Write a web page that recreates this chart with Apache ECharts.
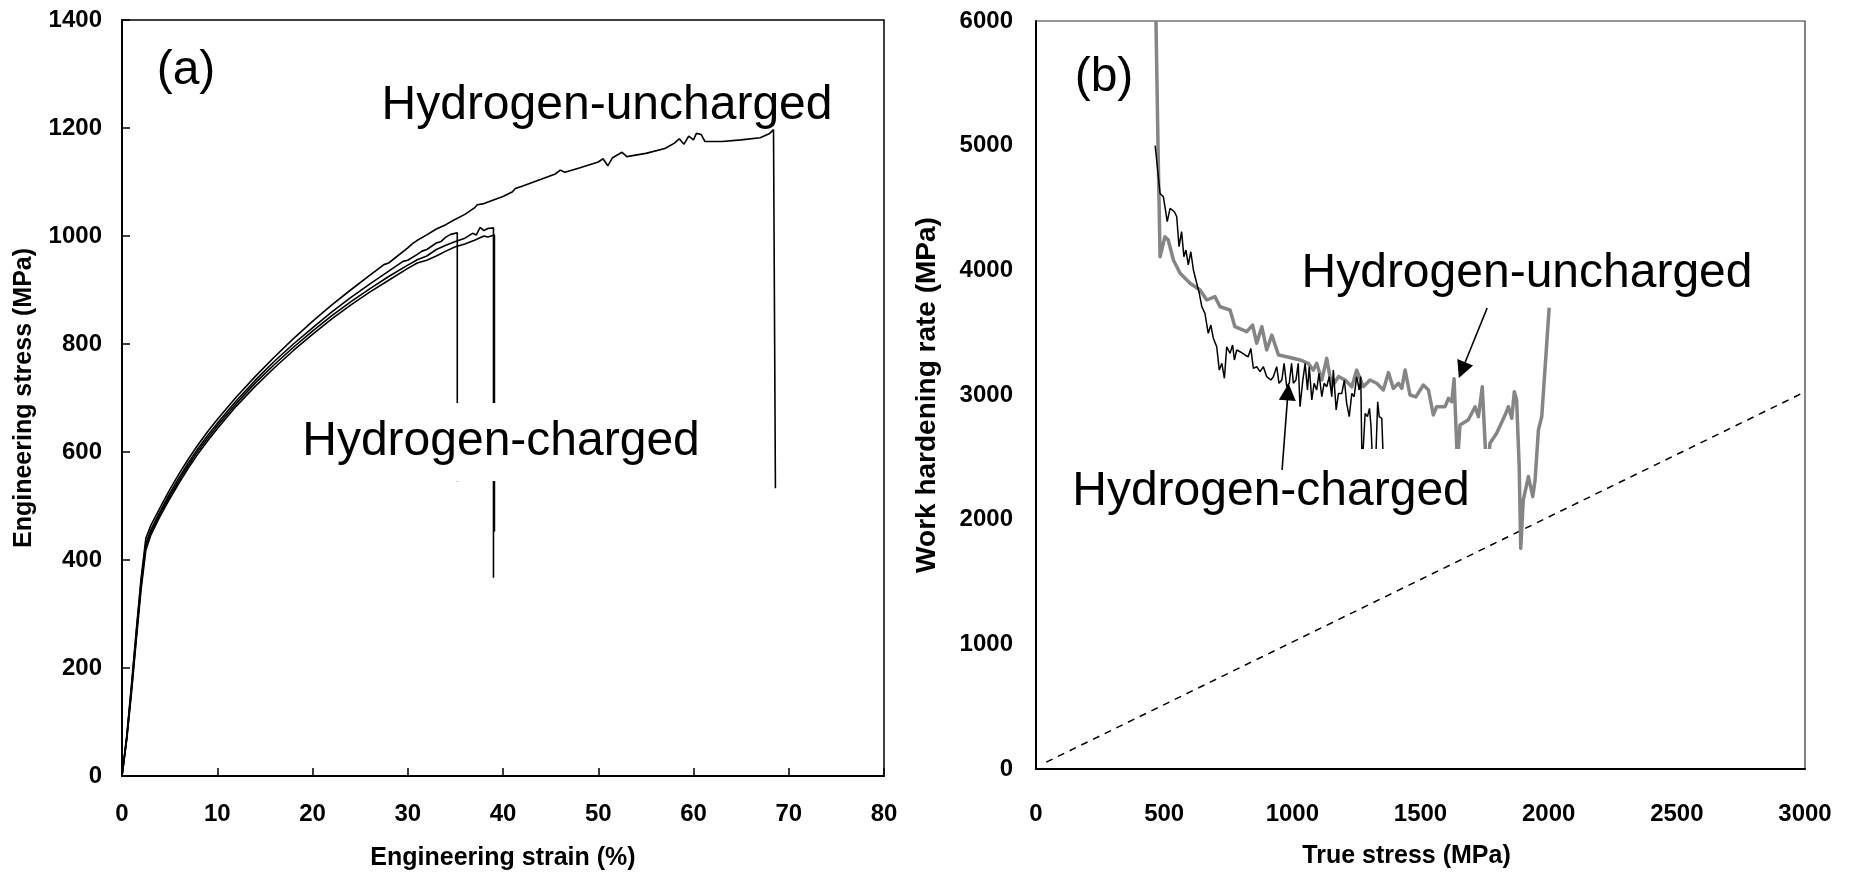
<!DOCTYPE html>
<html><head><meta charset="utf-8">
<script src="https://cdn.jsdelivr.net/npm/echarts@6/dist/echarts.min.js"></script>
<style>html,body{margin:0;padding:0;background:#fff}#c{width:1850px;height:876px}</style>
</head><body><div id="c"></div>
<script>
// ---------- Panel (a): engineering stress-strain [strain %, stress MPa] ----------
const aUncharged = [[0,0],[0.5,75],[1,170],[1.5,270],[2,365],[2.5,440],[3,463],[4,497],[5,530],[6,560],[7,588],[8,614],[9,638],[10,660],[12,702],[14,740],[16,776],[18,810],[20,842],[22,872],[24,900],[26,927],[27.5,947],[28,950],[30,978],[30.5,986],[31,992],[32,1002],[33,1013],[34,1021],[35,1031],[36,1040],[37,1052],[37.3,1058],[38,1060],[40,1073],[41,1082],[41.3,1088],[42,1092],[44,1105],[45.5,1115],[46,1122],[46.5,1118],[48,1126],[50,1137],[50.5,1143],[51,1130],[51.5,1145],[52.5,1155],[53,1147],[55,1153],[57,1162],[58,1172],[58.5,1180],[59,1170],[59.5,1185],[60,1178],[60.3,1190],[60.8,1188],[61.2,1175],[63,1175],[65,1178],[67,1182],[68,1190],[68.4,1197],[68.6,1195],[68.6,533]];
const aCharged1 = [[0,0],[0.5,72],[1,165],[1.5,265],[2,360],[2.5,430],[3,455],[4,490],[5,523],[6,553],[7,581],[8,607],[9,631],[10,653],[12,695],[14,733],[16,768],[18,800],[20,830],[22,859],[24,886],[26,911],[28,935],[29.5,953],[30,955],[31,966],[31.5,972],[32,975],[33,987],[33.5,990],[34,998],[34.5,1003],[35.2,1006],[35.2,546]];
const aCharged2 = [[0,0],[0.5,70],[1,160],[1.5,258],[2,352],[2.5,425],[3,450],[4,486],[5,518],[6,548],[7,576],[8,602],[9,626],[10,648],[12,690],[14,728],[16,762],[18,794],[20,824],[22,852],[24,878],[26,902],[28,925],[30,946],[31,956],[32,963],[33,975],[34,983],[35,990],[36,996],[36.8,1005],[37.2,1002],[37.6,1016],[38,1010],[38.4,1014],[39,1015],[39,367]];
const aCharged3 = [[0,0],[0.5,68],[1,155],[1.5,252],[2,345],[2.5,418],[3,445],[4,481],[5,513],[6,543],[7,571],[8,597],[9,621],[10,643],[12,685],[14,722],[16,756],[18,788],[20,818],[22,846],[24,872],[26,896],[28,918],[30,940],[31,950],[32,955],[33,963],[34,972],[35,980],[36,985],[37,992],[38,1000],[38.4,998],[39.1,1002],[39.1,453]];

// ---------- Panel (b): work hardening rate vs true stress [MPa, MPa] ----------
const bUncharged = [[468,6000],[476,5000],[484,4109],[503,4270],[516,4243],[536,4083],[562,3976],[601,3896],[640,3842],[666,3762],[698,3789],[718,3708],[757,3682],[776,3548],[822,3508],[845,3561],[861,3415],[881,3548],[900,3361],[920,3481],[946,3321],[978,3307],[1030,3281],[1062,3254],[1082,3200],[1095,3254],[1115,3120],[1134,3294],[1154,3066],[1180,3147],[1206,3120],[1232,3066],[1251,3200],[1277,3066],[1303,3120],[1329,3094],[1355,3040],[1375,3180],[1394,3053],[1414,3094],[1427,3053],[1440,3200],[1459,3000],[1482,2985],[1511,3080],[1531,3040],[1550,2840],[1563,2906],[1596,2906],[1609,2973],[1622,2946],[1631,3130],[1644,2450],[1650,2450],[1654,2759],[1686,2799],[1713,2906],[1726,2826],[1741,3066],[1756,2450],[1765,2450],[1771,2613],[1797,2693],[1830,2839],[1843,2906],[1856,2813],[1866,3027],[1875,2960],[1885,2425],[1891,1770],[1901,2158],[1921,2346],[1938,2185],[1947,2318],[1960,2719],[1973,2826],[1989,3307],[2002,3700]];
const bCharged = [[465,5000],[484,4617],[497,4590],[512,4390],[523,4497],[540,4470],[549,4430],[558,4190],[568,4310],[577,4109],[585,4163],[594,4043],[604,4149],[614,4003],[627,3896],[637,3816],[647,3708],[659,3655],[672,3495],[682,3561],[692,3454],[705,3387],[715,3200],[725,3254],[735,3134],[744,3387],[757,3334],[767,3401],[774,3281],[783,3361],[796,3347],[815,3321],[828,3307],[838,3374],[848,3214],[861,3227],[874,3187],[887,3227],[900,3147],[916,3120],[926,3147],[939,3227],[948,3094],[959,3120],[968,3254],[978,3066],[988,3094],[997,3254],[1004,3094],[1014,3120],[1023,3254],[1030,2906],[1041,3120],[1050,3254],[1059,3040],[1066,3227],[1076,2960],[1085,3094],[1095,3040],[1104,3174],[1115,2986],[1124,3094],[1134,3066],[1144,3147],[1154,2986],[1160,3200],[1171,2880],[1180,3013],[1193,3013],[1203,3120],[1212,2933],[1222,2826],[1232,3013],[1241,2986],[1251,3147],[1261,3040],[1267,3147],[1272,2400],[1278,2400],[1284,2853],[1293,2826],[1301,2893],[1307,2746],[1314,2400],[1324,2400],[1333,2946],[1339,2826],[1349,2813],[1356,2400]];
const bConsidere = [[40,55],[3000,3025]];
const bArrowUncharged = [[1760,3698],[1662,3200]];
const bArrowCharged = [[960,2398],[983,3024]];

// axis ranges [min, max, interval]
const aXAxis = [0, 80, 10];
const aYAxis = [0, 1400, 200];
const bXAxis = [0, 3000, 500];
const bYAxis = [0, 6000, 1000];

const FONT = '"Liberation Sans", Arial, Helvetica, sans-serif';
const chart = echarts.init(document.getElementById('c'), null, {renderer: 'canvas'});

function tickLabel(margin) {
  return {color: '#000', fontSize: 24, fontWeight: 'bold', fontFamily: FONT, margin: margin,
    formatter: function (v) { return String(v); }};
}
function nameStyle(extra) {
  return Object.assign({color: '#000', fontSize: 25, fontWeight: 'bold', fontFamily: FONT}, extra || {});
}
function blackLine(data) {
  return {type: 'line', xAxisIndex: 0, yAxisIndex: 0, data: data, showSymbol: false, symbol: 'none',
    lineStyle: {color: '#000', width: 1.6}, silent: true, z: 2};
}
function annot(x, y, text, box) {
  const s = {text: text, font: '48px ' + FONT, fill: '#000', textAlign: 'center', textVerticalAlign: 'middle',
    align: 'center', verticalAlign: 'middle', lineHeight: 48};
  if (box) { s.backgroundColor = '#fff'; s.padding = box; }
  return {type: 'text', x: x, y: y, z: 50, silent: true, style: s};
}

chart.setOption({
  animation: false,
  backgroundColor: '#fff',
  grid: [
    {left: 122, top: 20, width: 762, height: 759, show: true, borderColor: '#000', borderWidth: 1.5, backgroundColor: 'transparent'},
    {left: 1036, top: 21, width: 769, height: 748, show: true, borderColor: '#333', borderWidth: 1.2, backgroundColor: 'transparent'}
  ],
  xAxis: [
    {gridIndex: 0, type: 'value', min: aXAxis[0], max: aXAxis[1], interval: aXAxis[2],
     name: 'Engineering strain (%)', nameLocation: 'middle', nameGap: 70, nameTextStyle: nameStyle(),
     axisLine: {lineStyle: {color: '#000', width: 2}}, axisTick: {inside: true, length: 8, lineStyle: {color: '#000', width: 1.5}},
     axisLabel: tickLabel(26), splitLine: {show: false}},
    {gridIndex: 1, type: 'value', min: bXAxis[0], max: bXAxis[1], interval: bXAxis[2],
     name: 'True stress (MPa)', nameLocation: 'middle', nameGap: 75, nameTextStyle: nameStyle({padding: [0, 28, 0, 0]}),
     axisLine: {lineStyle: {color: '#000', width: 2}}, axisTick: {show: false},
     axisLabel: tickLabel(33), splitLine: {show: false}}
  ],
  yAxis: [
    {gridIndex: 0, type: 'value', min: aYAxis[0], max: aYAxis[1], interval: aYAxis[2],
     name: 'Engineering stress (MPa)', nameLocation: 'middle', nameGap: 85, nameTextStyle: nameStyle(),
     axisLine: {lineStyle: {color: '#000', width: 2}}, axisTick: {inside: true, length: 8, lineStyle: {color: '#000', width: 1.5}},
     axisLabel: tickLabel(20), splitLine: {show: false}},
    {gridIndex: 1, type: 'value', min: bYAxis[0], max: bYAxis[1], interval: bYAxis[2],
     name: 'Work hardening rate (MPa)', nameLocation: 'middle', nameGap: 95, nameTextStyle: nameStyle({fontSize: 28}),
     axisLine: {lineStyle: {color: '#000', width: 2}}, axisTick: {show: false},
     axisLabel: tickLabel(23), splitLine: {show: false}}
  ],
  series: [
    blackLine(aUncharged),
    blackLine(aCharged1),
    blackLine(aCharged2),
    blackLine(aCharged3),
    {type: 'line', xAxisIndex: 1, yAxisIndex: 1, data: bConsidere, showSymbol: false, symbol: 'none', silent: true,
     lineStyle: {color: '#000', width: 1.5, type: [7, 6]}, z: 2},
    {type: 'line', xAxisIndex: 1, yAxisIndex: 1, data: bUncharged, showSymbol: false, symbol: 'none', silent: true,
     lineStyle: {color: '#858585', width: 3.5, join: 'round'}, z: 3},
    {type: 'line', xAxisIndex: 1, yAxisIndex: 1, data: bCharged, showSymbol: false, symbol: 'none', silent: true,
     lineStyle: {color: '#000', width: 1.5}, z: 4},
    {type: 'lines', coordinateSystem: 'cartesian2d', xAxisIndex: 1, yAxisIndex: 1, silent: true, z: 60,
     symbol: ['none', 'triangle'], symbolSize: 17,
     lineStyle: {color: '#000', width: 1.6, opacity: 1, curveness: 0},
     data: [{coords: bArrowUncharged}, {coords: bArrowCharged}]}
  ],
  graphic: {elements: [
    annot(186, 71, '(a)'),
    annot(607, 106, 'Hydrogen-uncharged'),
    annot(501, 442, 'Hydrogen-charged', [15, 10]),
    annot(1104, 78, '(b)'),
    annot(1527, 274, 'Hydrogen-uncharged'),
    annot(1271, 492, 'Hydrogen-charged', [19, 26])
  ]}
});
</script></body></html>
